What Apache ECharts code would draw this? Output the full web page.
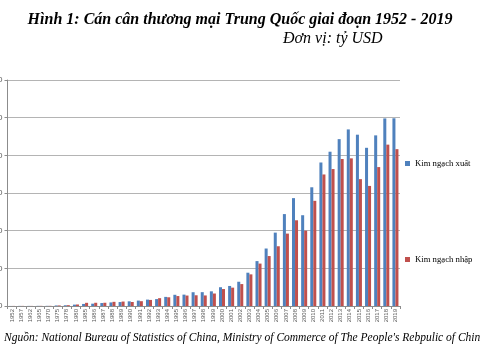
<!DOCTYPE html>
<html>
<head>
<meta charset="utf-8">
<script src="https://cdn.jsdelivr.net/npm/echarts@6/dist/echarts.min.js"></script>
<style>html,body{margin:0;padding:0;background:#fff}#c{width:480px;height:360px}</style>
</head>
<body>
<div id="c"></div>
<script>
const years = ['1952','1957','1962','1965','1970','1975','1978','1980','1985','1986','1987','1988','1989','1990','1991','1992','1993','1994','1995','1996','1997','1998','1999','2000','2001','2002','2003','2004','2005','2006','2007','2008','2009','2010','2011','2012','2013','2014','2015','2016','2017','2018','2019'];
const exportsVal = [0.8,1.6,1.5,2.2,2.3,7.3,9.8,18.1,27.4,30.9,39.4,47.5,52.5,62.1,71.8,84.9,91.7,121,148.8,151,182.8,183.7,194.9,249.2,266.1,322,442,596,763,974,1220,1432,1205,1576,1905,2048,2215,2344,2274,2100,2265,2490,2492];
const importsVal = [1.1,1.5,1.2,2.0,2.3,7.5,10.9,20.0,42.3,42.9,43.2,55.3,59.1,53.3,63.8,80.6,104,115.6,132.1,138.8,142.4,140.2,165.7,225.1,243.6,291,420,563,663,793,961,1138,1000,1396,1746,1818,1951,1960,1684,1594,1844,2142,2082];
const yTicks = {min: 0, max: 3000, interval: 500};
const seriesNames = ['Kim ngạch xuất khẩu', 'Kim ngạch nhập khẩu'];

const chart = echarts.init(document.getElementById('c'));
const serif = 'Liberation Serif';
// the reference legend box clips the last word of each entry
const clipLegend = name => name.split(' ').slice(0, 3).join(' ');
chart.setOption({
  animation: false,
  backgroundColor: '#fff',
  title: [
    {text: 'Hình 1: Cán cân thương mại Trung Quốc giai đoạn 1952 - 2019', left: 'center', top: 7,
     textStyle: {fontFamily: serif, fontStyle: 'italic', fontWeight: 'bold', fontSize: 16, color: '#000'}},
    {text: 'Đơn vị: tỷ USD', left: 278, top: 26,
     textStyle: {fontFamily: serif, fontStyle: 'italic', fontWeight: 'normal', fontSize: 16, color: '#000'}},
    {text: "Nguồn: National Bureau of Statistics of China, Ministry of Commerce of The People's Rebpulic of China", left: -1, top: 327,
     textStyle: {fontFamily: serif, fontStyle: 'italic', fontWeight: 'normal', fontSize: 11.5, color: '#000'}}
  ],
  legend: [
    {data: [seriesNames[0]], orient: 'vertical', left: 405, top: 159, padding: 0, itemWidth: 5, itemHeight: 5, icon: 'rect',
     formatter: clipLegend, textStyle: {fontFamily: serif, fontSize: 8.7, color: '#000'}},
    {data: [seriesNames[1]], orient: 'vertical', left: 405, top: 255, padding: 0, itemWidth: 5, itemHeight: 5, icon: 'rect',
     formatter: clipLegend, textStyle: {fontFamily: serif, fontSize: 8.7, color: '#000'}}
  ],
  grid: {left: 7.5, right: 80, top: 80, bottom: 54, containLabel: false, outerBoundsMode: 'none'},
  xAxis: {
    type: 'category', data: years,
    axisLine: {lineStyle: {color: '#8c8c8c'}},
    axisTick: {show: true, length: 3, lineStyle: {color: '#8c8c8c'}},
    axisLabel: {rotate: 90, fontSize: 6, color: '#595959', fontFamily: 'Liberation Sans', margin: 3, interval: 0}
  },
  yAxis: {
    type: 'value', min: yTicks.min, max: yTicks.max, interval: yTicks.interval,
    axisLine: {show: true, lineStyle: {color: '#8c8c8c'}},
    axisTick: {show: true, length: 3, lineStyle: {color: '#8c8c8c'}},
    axisLabel: {fontSize: 8, color: '#595959', fontFamily: 'Liberation Sans', margin: 5},
    splitLine: {lineStyle: {color: '#b4b4b4'}}
  },
  series: [
    {name: seriesNames[0], type: 'bar', data: exportsVal, barGap: '0%', barCategoryGap: '34%', itemStyle: {color: '#4f81bd'}},
    {name: seriesNames[1], type: 'bar', data: importsVal, barGap: '0%', barCategoryGap: '34%', itemStyle: {color: '#c0504d'}}
  ]
});
</script>
</body>
</html>
